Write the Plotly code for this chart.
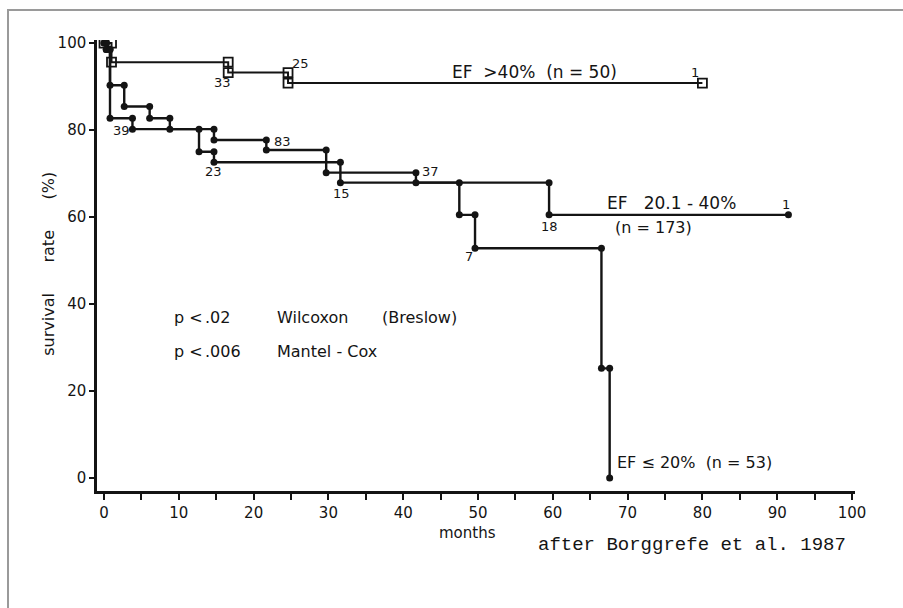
import plotly.graph_objects as go

# ---------------- data ----------------
# event times (months) and survival (%) after each event
ef_high_t = [1.0, 16.6, 24.6]
ef_high_s = [95.6, 93.2, 90.8]
ef_high_end = 80.0

ef_mid_t = [0.3, 0.8, 2.7, 6.1, 8.8, 14.7, 21.7, 29.7, 41.7, 59.5]
ef_mid_s = [98.5, 90.3, 85.4, 82.7, 80.2, 77.7, 75.4, 70.2, 67.9, 60.5]
ef_mid_end = 91.5

ef_low_t = [0.3, 0.8, 3.8, 12.7, 14.7, 31.6, 47.5, 49.6, 66.5, 67.6]
ef_low_s = [98.5, 82.7, 80.2, 75.0, 72.6, 67.9, 60.5, 52.8, 25.2, 0.0]
ef_low_end = None

# numbers at risk
risk_high_text = ["33", "25", "1"]
risk_mid_text = ["83", "37", "18", "1"]
risk_low_text = ["39", "23", "15", "7"]

x_ticks = [0, 10, 20, 30, 40, 50, 60, 70, 80, 90, 100]
y_ticks = [0, 20, 40, 60, 80, 100]

INK = "#141414"
FONT = "DejaVu Sans, Arial, sans-serif"
MONO = "Liberation Mono, Courier New, monospace"
NB = "\u00a0"


def km_vertices(times, surv, end, s0=100.0):
    xs, ys, cur = [0.0], [s0], s0
    for t, s in zip(times, surv):
        xs += [t, t]
        ys += [cur, s]
        cur = s
    if end is not None:
        xs.append(end)
        ys.append(cur)
    return xs, ys


fig = go.Figure()

x, y = km_vertices(ef_high_t, ef_high_s, ef_high_end)
fig.add_trace(go.Scatter(x=x, y=y, mode="lines+markers",
                         line=dict(color=INK, width=2),
                         marker=dict(symbol="square-open", size=9,
                                     color=INK, line=dict(width=1.8, color=INK)),
                         name="EF > 40%"))

x, y = km_vertices(ef_mid_t, ef_mid_s, ef_mid_end)
fig.add_trace(go.Scatter(x=x, y=y, mode="lines+markers",
                         line=dict(color=INK, width=2.4),
                         marker=dict(symbol="circle", size=7, color=INK),
                         name="EF 20.1 - 40%"))

x, y = km_vertices(ef_low_t, ef_low_s, ef_low_end)
fig.add_trace(go.Scatter(x=x, y=y, mode="lines+markers",
                         line=dict(color=INK, width=2.4),
                         marker=dict(symbol="circle", size=7, color=INK),
                         name="EF <= 20%"))

ann = []


def label(x, y, text, size=13, xanchor="center", xref="x", yref="y", font=FONT, angle=0):
    ann.append(dict(x=x, y=y, xref=xref, yref=yref, text=text, showarrow=False,
                    xanchor=xanchor, yanchor="middle", textangle=angle,
                    font=dict(family=font, size=size, color=INK)))


# numbers at risk
for (xx, yy), t in zip([(15.9, 91.0), (26.2, 95.4), (79.0, 93.2)], risk_high_text):
    label(xx, yy, t, size=13)
for (xx, yy), t in zip([(23.8, 77.3), (43.6, 70.4), (59.5, 57.8), (91.2, 62.8)], risk_mid_text):
    label(xx, yy, t, size=13)
for (xx, yy), t in zip([(2.4, 80.0), (14.6, 70.4), (31.8, 65.4), (48.8, 50.9)], risk_low_text):
    label(xx, yy, t, size=13)

# curve labels
label(57.6, 93.4, f"EF{NB*2}&gt;40%{NB*2}(n = 50)", size=17)
label(75.8, 63.3, f"EF{NB*3}20.1 - 40%", size=17)
label(73.4, 57.5, "(n = 173)", size=16)
label(79.0, 3.6, f"EF ≤ 20%{NB*2}(n = 53)", size=16)

# statistics
for yy, p, test in [(36.8, ".02", "Wilcoxon"), (29.0, ".006", "Mantel - Cox")]:
    label(9.1, yy, "p &lt;", size=16, xanchor="left")
    label(13.2, yy, p, size=16, xanchor="left")
    label(22.9, yy, test, size=16, xanchor="left")
label(36.9, 36.8, "(Breslow)", size=16, xanchor="left")

# axis titles and source
label(48.6, -0.093, "months", size=15, yref="paper")
label(-0.064, 0.505, f"survival{NB*6}rate{NB*6}(%)", size=16, xref="paper", yref="paper", angle=-90)
label(0.991, -0.12, "after Borggrefe et al. 1987", size=19, xref="paper", yref="paper",
      xanchor="right", font=MONO)

fig.update_layout(
    width=903, height=608,
    margin=dict(l=97, r=48, t=40, b=117),
    paper_bgcolor="white", plot_bgcolor="white",
    showlegend=False,
    font=dict(family=FONT, size=15, color=INK),
    annotations=ann,
    shapes=[
        # scanned page frame: only its top and left edges fall inside the picture
        dict(type="rect", xref="paper", yref="paper", x0=-0.1174, x1=1.15, y0=-0.35, y1=1.0665,
             line=dict(color="#9a9a9a", width=2), fillcolor="rgba(0,0,0,0)", layer="below"),
    ],
    xaxis=dict(range=[-0.94, 100.4], showgrid=False, zeroline=False,
               showline=True, linecolor=INK, linewidth=2.5,
               tickvals=x_ticks, ticks="outside", ticklen=6, tickwidth=2, tickcolor=INK,
               minor=dict(dtick=5, tick0=0, ticks="outside", ticklen=6, tickwidth=2, tickcolor=INK),
               tickfont=dict(size=15, color=INK, family=FONT)),
    yaxis=dict(range=[-3.0, 100.7], showgrid=False, zeroline=False,
               showline=True, linecolor=INK, linewidth=2.5,
               tickvals=y_ticks, ticks="outside", ticklen=5, tickwidth=2, tickcolor=INK,
               tickfont=dict(size=15, color=INK, family=FONT)),
)

fig.write_html("out.html", config={"displayModeBar": False},
               post_script="document.body.style.margin='0px';"
                           "document.body.style.overflow='hidden';"
                           "document.documentElement.style.overflow='hidden';")
